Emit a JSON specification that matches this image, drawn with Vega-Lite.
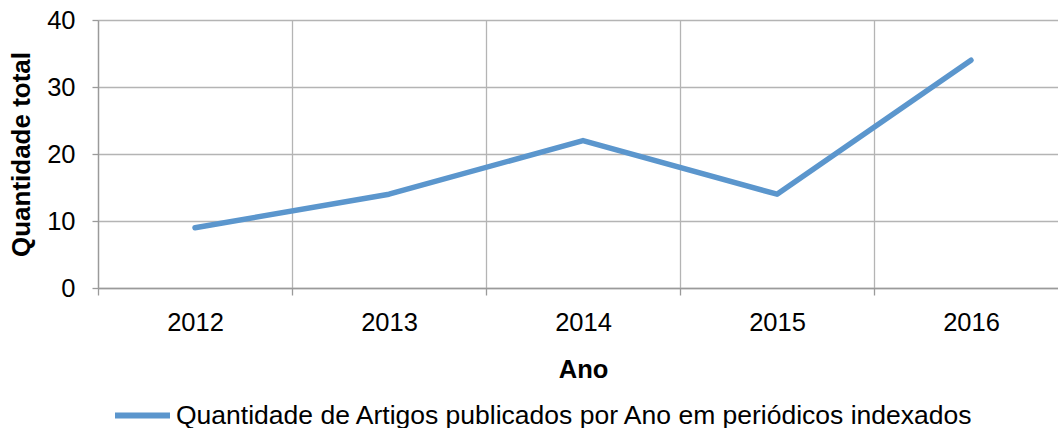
{
  "$schema": "https://vega.github.io/schema/vega-lite/v6.json",
  "width": 960,
  "height": 268,
  "autosize": {"type": "none"},
  "padding": {"left": 98, "top": 20, "right": 0, "bottom": 140},
  "background": "white",
  "config": {
    "view": {"stroke": null},
    "font": "Liberation Sans"
  },
  "data": {
    "values": [
      {"Ano": "2012", "Quantidade": 9, "Serie": "Quantidade de Artigos publicados por Ano em periódicos indexados"},
      {"Ano": "2013", "Quantidade": 14, "Serie": "Quantidade de Artigos publicados por Ano em periódicos indexados"},
      {"Ano": "2014", "Quantidade": 22, "Serie": "Quantidade de Artigos publicados por Ano em periódicos indexados"},
      {"Ano": "2015", "Quantidade": 14, "Serie": "Quantidade de Artigos publicados por Ano em periódicos indexados"},
      {"Ano": "2016", "Quantidade": 34, "Serie": "Quantidade de Artigos publicados por Ano em periódicos indexados"}
    ]
  },
  "mark": {"type": "line", "strokeWidth": 5.5, "strokeCap": "round", "strokeJoin": "round"},
  "encoding": {
    "x": {
      "field": "Ano",
      "type": "ordinal",
      "bandPosition": 0.5,
      "scale": {"type": "band", "paddingInner": 0, "paddingOuter": 0, "range": [0, 970]},
      "axis": {
        "title": "Ano",
        "labelAngle": 0,
        "tickBand": "extent",
        "grid": true,
        "gridColor": "#b4b4b4",
        "gridWidth": 1.3,
        "domainColor": "#9a9a9a",
        "domainWidth": 1.3,
        "tickColor": "#9a9a9a",
        "tickWidth": 1.3,
        "tickSize": 7,
        "labelFontSize": 25.5,
        "labelColor": "#000000",
        "labelPadding": 15,
        "titleFontSize": 25.5,
        "titleFontWeight": "bold",
        "titleColor": "#000000",
        "titlePadding": 22
      }
    },
    "y": {
      "field": "Quantidade",
      "type": "quantitative",
      "scale": {"domain": [0, 40], "nice": false},
      "axis": {
        "title": "Quantidade total",
        "values": [0, 10, 20, 30, 40],
        "grid": true,
        "gridColor": "#b4b4b4",
        "gridWidth": 1.3,
        "domainColor": "#9a9a9a",
        "domainWidth": 1.3,
        "tickColor": "#9a9a9a",
        "tickWidth": 1.3,
        "tickSize": 6,
        "labelFontSize": 25.5,
        "labelColor": "#000000",
        "labelPadding": 17,
        "titleFontSize": 26,
        "titleFontWeight": "bold",
        "titleColor": "#000000",
        "titlePadding": 12
      }
    },
    "color": {
      "field": "Serie",
      "type": "nominal",
      "scale": {"range": ["#5b96cd"]},
      "legend": {
        "title": null,
        "orient": "none",
        "legendX": 14,
        "legendY": 365,
        "symbolType": "stroke",
        "symbolSize": 3025,
        "symbolStrokeWidth": 6,
        "labelFontSize": 26.5,
        "labelColor": "#000000",
        "labelOffset": 3,
        "labelLimit": 1000,
        "padding": 0
      }
    }
  }
}
